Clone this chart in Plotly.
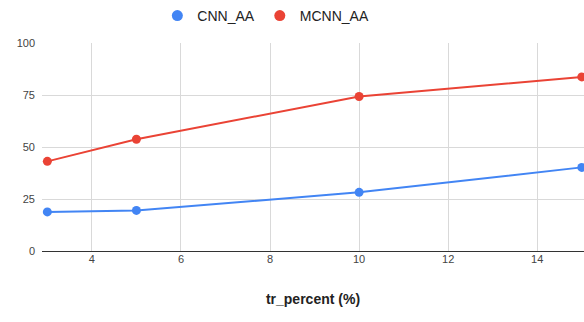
import plotly.graph_objects as go

# Training percentage and accuracy of each model
tr_percent = [3, 5, 10, 15]
cnn_aa = [18.8, 19.5, 28.2, 40.2]
mcnn_aa = [43.1, 53.7, 74.3, 83.7]

y_ticks = [0, 25, 50, 75, 100]
x_ticks = [4, 6, 8, 10, 12, 14]

series = [("CNN_AA", cnn_aa, "#4285F4"), ("MCNN_AA", mcnn_aa, "#EA4335")]

fig = go.Figure()
for name, vals, color in series:
    fig.add_trace(go.Scatter(
        x=tr_percent, y=vals, name=name, mode="lines+markers",
        line=dict(color=color, width=2), marker=dict(size=9, color=color),
        cliponaxis=False, showlegend=False,
    ))
# Legend entries show only a dot, as in Sheets-style charts
for name, vals, color in series:
    fig.add_trace(go.Scatter(
        x=[None], y=[None], name=name, mode="markers",
        marker=dict(size=11, color=color), showlegend=True,
    ))

fig.update_layout(
    width=584, height=322,
    margin=dict(l=42, r=0, t=43, b=71),
    paper_bgcolor="white", plot_bgcolor="white",
    font=dict(family="Arial, Liberation Sans, sans-serif", color="#444444", size=11),
    showlegend=True,
    legend=dict(
        orientation="h", x=0.413, xanchor="center", y=1.0, yanchor="top",
        yref="container", font=dict(size=14, color="#222222"),
        itemwidth=30, tracegroupgap=0,
    ),
    xaxis=dict(
        range=[2.88, 15.05], tickvals=x_ticks, ticktext=[str(v) for v in x_ticks],
        showgrid=True, gridcolor="#d9d9d9", gridwidth=1, zeroline=False,
        showline=False, ticks="", tickfont=dict(size=11, color="#444444"),
        title=dict(text="<b>tr_percent (%)</b>", font=dict(size=14, color="#222222"), standoff=30),
    ),
    yaxis=dict(
        range=[0, 100], tickvals=y_ticks, ticktext=[str(v) for v in y_ticks],
        showgrid=True, gridcolor="#d9d9d9", gridwidth=1,
        zeroline=True, zerolinecolor="#333333", zerolinewidth=1,
        showline=False, ticks="", tickfont=dict(size=11, color="#444444"),
        ticklabelstandoff=6,
    ),
)

fig.write_html("out.html")
